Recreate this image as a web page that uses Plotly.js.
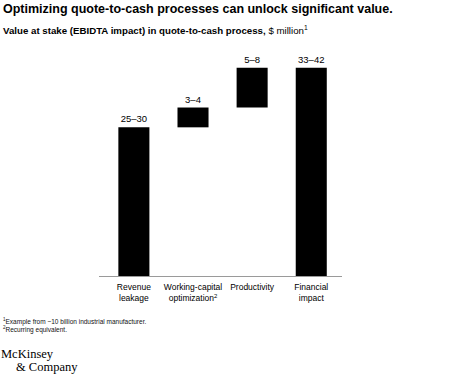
<!DOCTYPE html>
<html>
<head>
<meta charset="utf-8">
<script src="https://cdn.plot.ly/plotly-3.0.1.min.js"></script>
<style>
html,body{margin:0;padding:0;background:#fff;}
#chart{width:474px;height:377px;}
</style>
</head>
<body>
<div id="chart"></div>
<script>
// Data
const categories = ["Revenue<br>leakage", "Working-capital<br>optimization<sup>2</sup>", "Productivity", "Financial<br>impact"];
const barTops = [30, 4, 8, 42];        // upper bound of each range ($ million)
const barBases = [0, 30, 34, 0];       // waterfall base
const rangeLabels = ["25–30", "3–4", "5–8", "33–42"];

// Layout geometry (pixels)
const W = 474, H = 377;
const L = 99, R = 132, T = 53, B = 101;
const PW = W - L - R, PH = H - T - B;
const px = x => (x - L) / PW;
const py = y => (H - B - y) / PH;

const SANS = "Liberation Sans, Arial, sans-serif";

const trace = {
  type: "bar",
  x: categories,
  y: barTops,
  base: barBases,
  width: 0.525,
  marker: {color: "#000000"},
  text: rangeLabels,
  textposition: "outside",
  textfont: {family: SANS, size: 9.5, color: "#000"},
  cliponaxis: false,
  hoverinfo: "none"
};

const layout = {
  width: W, height: H,
  margin: {l: L, r: R, t: T, b: B, pad: 0},
  paper_bgcolor: "#fff",
  plot_bgcolor: "#fff",
  showlegend: false,
  bargap: 0.3,
  xaxis: {
    type: "category",
    range: [-0.59, 3.52],
    showgrid: false,
    zeroline: false,
    showline: true,
    linecolor: "#9a9a9a",
    linewidth: 1,
    ticks: "",
    ticklabelstandoff: 3,
    tickfont: {family: SANS, size: 8.5, color: "#000"},
    fixedrange: true
  },
  yaxis: {
    range: [0, 45],
    visible: false,
    showgrid: false,
    zeroline: false,
    fixedrange: true
  },
  annotations: [
    {text: "<b>Optimizing quote-to-cash processes can unlock significant value.</b>",
     xref: "paper", yref: "paper", x: px(1), y: py(9), xanchor: "left", yanchor: "middle",
     showarrow: false, font: {family: SANS, size: 12.5, color: "#000"}},
    {text: "<b>Value at stake (EBIDTA impact) in quote-to-cash process,</b> $ million<sup>1</sup>",
     xref: "paper", yref: "paper", x: px(1), y: py(30), xanchor: "left", yanchor: "middle",
     showarrow: false, font: {family: SANS, size: 9.7, color: "#000"}},
    {text: "<sup>1</sup>Example from ~10 billion industrial manufacturer.",
     xref: "paper", yref: "paper", x: px(1), y: py(321), xanchor: "left", yanchor: "middle",
     showarrow: false, font: {family: SANS, size: 6.5, color: "#111"}},
    {text: "<sup>2</sup>Recurring equivalent.",
     xref: "paper", yref: "paper", x: px(1), y: py(329), xanchor: "left", yanchor: "middle",
     showarrow: false, font: {family: SANS, size: 6.5, color: "#111"}},
    {text: "McKinsey",
     xref: "paper", yref: "paper", x: px(-1), y: py(354), xanchor: "left", yanchor: "middle",
     showarrow: false, font: {family: "Liberation Serif, Times New Roman, serif", size: 12.5, color: "#000"}},
    {text: "&amp; Company",
     xref: "paper", yref: "paper", x: px(14), y: py(367), xanchor: "left", yanchor: "middle",
     showarrow: false, font: {family: "Liberation Serif, Times New Roman, serif", size: 12.5, color: "#000"}}
  ]
};

Plotly.newPlot("chart", [trace], layout, {displayModeBar: false, staticPlot: true});
</script>
</body>
</html>
